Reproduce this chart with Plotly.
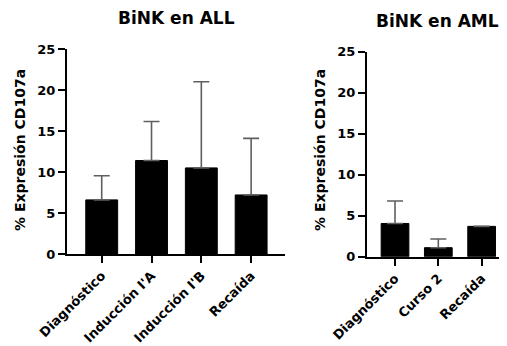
import plotly.graph_objects as go

# ---- data ----
all_categories = ["Diagnóstico", "Inducción I'A", "Inducción I'B", "Recaída"]
all_means = [6.6, 11.4, 10.5, 7.2]
all_err = [2.95, 4.75, 10.5, 6.9]

aml_categories = ["Diagnóstico", "Curso 2", "Recaída"]
aml_means = [4.05, 1.1, 3.7]
aml_err = [2.75, 1.05, None]

y_ticks = [0, 5, 10, 15, 20, 25]
title_left = "BiNK en ALL"
title_right = "BiNK en AML"
y_title = "% Expresión CD107a"

FONT = "DejaVu Sans"
OFF = 8  # page body margin
W, H = 507 - OFF, 346 - OFF

fig = go.Figure()

def add_bars(cats, vals, errs, xa, ya):
    fig.add_trace(go.Bar(
        x=list(range(len(cats))), y=vals, width=0.64,
        marker=dict(color="black", line=dict(color="black", width=1)),
        error_y=dict(type="data", array=errs, symmetric=False,
                     arrayminus=[0] * len(errs),
                     color="#5f5f5f", thickness=1.6, width=8),
        xaxis=xa, yaxis=ya, showlegend=False,
    ))

add_bars(all_categories, all_means, all_err, "x", "y")
add_bars(aml_categories, aml_means, aml_err, "x2", "y2")

axis_common = dict(showline=True, linecolor="black", linewidth=2,
                   ticks="outside", ticklen=7, tickwidth=2, tickcolor="black",
                   showgrid=False, zeroline=False, automargin=False,
                   tickfont=dict(family=FONT, size=13, color="black", weight="bold"))

def px_x(p):
    return (p - OFF) / W

def px_y(p):
    return 1 - (p - OFF) / H

fig.update_layout(
    template="none",
    width=W, height=H, margin=dict(l=0, r=0, t=0, b=0, pad=0),
    paper_bgcolor="white", plot_bgcolor="white",
    xaxis=dict(domain=[px_x(67), px_x(285)], range=[-0.697, 3.68],
               tickmode="array", tickvals=list(range(len(all_categories))),
               ticktext=all_categories, tickangle=-45, anchor="y", **axis_common),
    yaxis=dict(domain=[px_y(254), px_y(49)], range=[0, 25],
               tickmode="array", tickvals=y_ticks, anchor="x", **axis_common),
    xaxis2=dict(domain=[px_x(367), 1.0], range=[-0.647, 2.586],
                tickmode="array", tickvals=list(range(len(aml_categories))),
                ticktext=aml_categories, tickangle=-45, anchor="y2", **axis_common),
    yaxis2=dict(domain=[px_y(256.7), px_y(51.7)], range=[0, 25],
                tickmode="array", tickvals=y_ticks, anchor="x2", **axis_common),
    annotations=[
        dict(text=title_left, x=px_x(176), y=px_y(18), xref="paper", yref="paper",
             xanchor="center", yanchor="middle", showarrow=False, borderpad=0,
             font=dict(family=FONT, size=17, color="black", weight="bold")),
        dict(text=title_right, x=px_x(437), y=px_y(21), xref="paper", yref="paper",
             xanchor="center", yanchor="middle", showarrow=False, borderpad=0,
             font=dict(family=FONT, size=17, color="black", weight="bold")),
        dict(text=y_title, x=px_x(20), y=px_y(150), xref="paper", yref="paper",
             xanchor="center", yanchor="middle", showarrow=False, textangle=-90,
             font=dict(family=FONT, size=14, color="black", weight="bold")),
        dict(text=y_title, x=px_x(320), y=px_y(150), xref="paper", yref="paper",
             xanchor="center", yanchor="middle", showarrow=False, textangle=-90,
             font=dict(family=FONT, size=14, color="black", weight="bold")),
    ],
)

fig.write_html("out.html")
